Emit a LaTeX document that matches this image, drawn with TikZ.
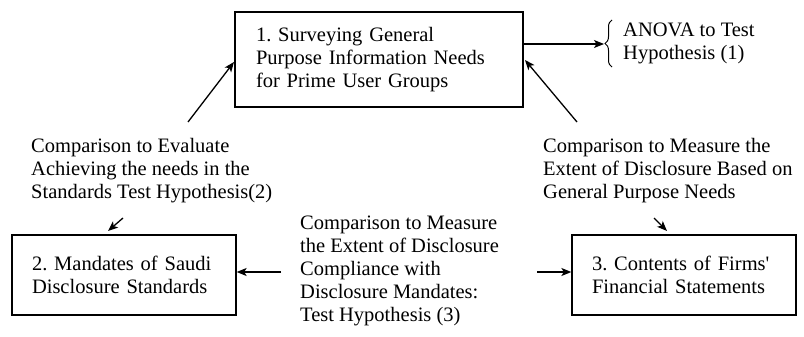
\documentclass[tikz,border=0pt]{standalone}
\usepackage{fontspec}
\setmainfont{Liberation Serif}
\frenchspacing
\usetikzlibrary{arrows.meta,decorations.pathreplacing}
\begin{document}
\begin{tikzpicture}[x=1pt,y=-1pt,
  every node/.style={font=\fontsize{20.5}{23}\selectfont},
  box/.style={draw,line width=1.3pt,align=left,inner ysep=0pt},
  lbl/.style={align=left,anchor=west,inner sep=0pt},
  arr/.style={line width=1.3pt,-{Stealth[length=10pt,width=8pt,inset=2.5pt]}}]
\useasboundingbox (0,0) rectangle (804,337);
\node[box,minimum width=288pt,minimum height=95pt,text width=246pt,inner xsep=21pt] (box1) at (379,59.5)
  {1. Surveying General\\Purpose Information Needs\\for Prime User Groups};
\node[box,minimum width=224pt,minimum height=80pt,text width=184pt,inner xsep=20pt] (box2) at (124,275)
  {2. Mandates of Saudi\\Disclosure Standards};
\node[box,minimum width=224pt,minimum height=80pt,text width=184pt,inner xsep=20pt] (box3) at (684,275)
  {3. Contents of Firms\textquotesingle\\Financial Statements};
\node[lbl] (lbl2) at (31,171) {Comparison to Evaluate\\Achieving the needs in the\\Standards Test Hypothesis(2)};
\node[lbl] (lbl3) at (543,171) {Comparison to Measure the\\Extent of Disclosure Based on\\General Purpose Needs};
\node[lbl] (lblm) at (300,271) {Comparison to Measure\\the Extent of Disclosure\\Compliance with\\Disclosure Mandates:\\Test Hypothesis (3)};
\node[lbl] (anova) at (623,43) {ANOVA to Test\\Hypothesis (1)};
\coordinate (a1s) at (188,122);
\coordinate (a1e) at (234,62);
\coordinate (a2s) at (123,218);
\coordinate (a2e) at (108,231);
\coordinate (a3s) at (577,122);
\coordinate (a3e) at (525,60);
\coordinate (a4s) at (654,218);
\coordinate (a4e) at (667,231);
\coordinate (m2s) at (281,272);
\coordinate (m3s) at (537,272);
\coordinate (br) at (604,44);
\draw[arr] (a1s) -- (a1e);
\draw[arr] (a2s) -- (a2e);
\draw[arr] (a3s) -- (a3e);
\draw[arr] (a4s) -- (a4e);
\draw[arr] (m2s) -- (box2.east |- m2s);
\draw[arr] (m3s) -- (box3.west |- m3s);
\draw[arr] (box1.east |- br) -- (br);
\draw[line width=1pt,decorate,decoration={brace,amplitude=7pt}] (612,67) -- (612,20);
\end{tikzpicture}
\end{document}
